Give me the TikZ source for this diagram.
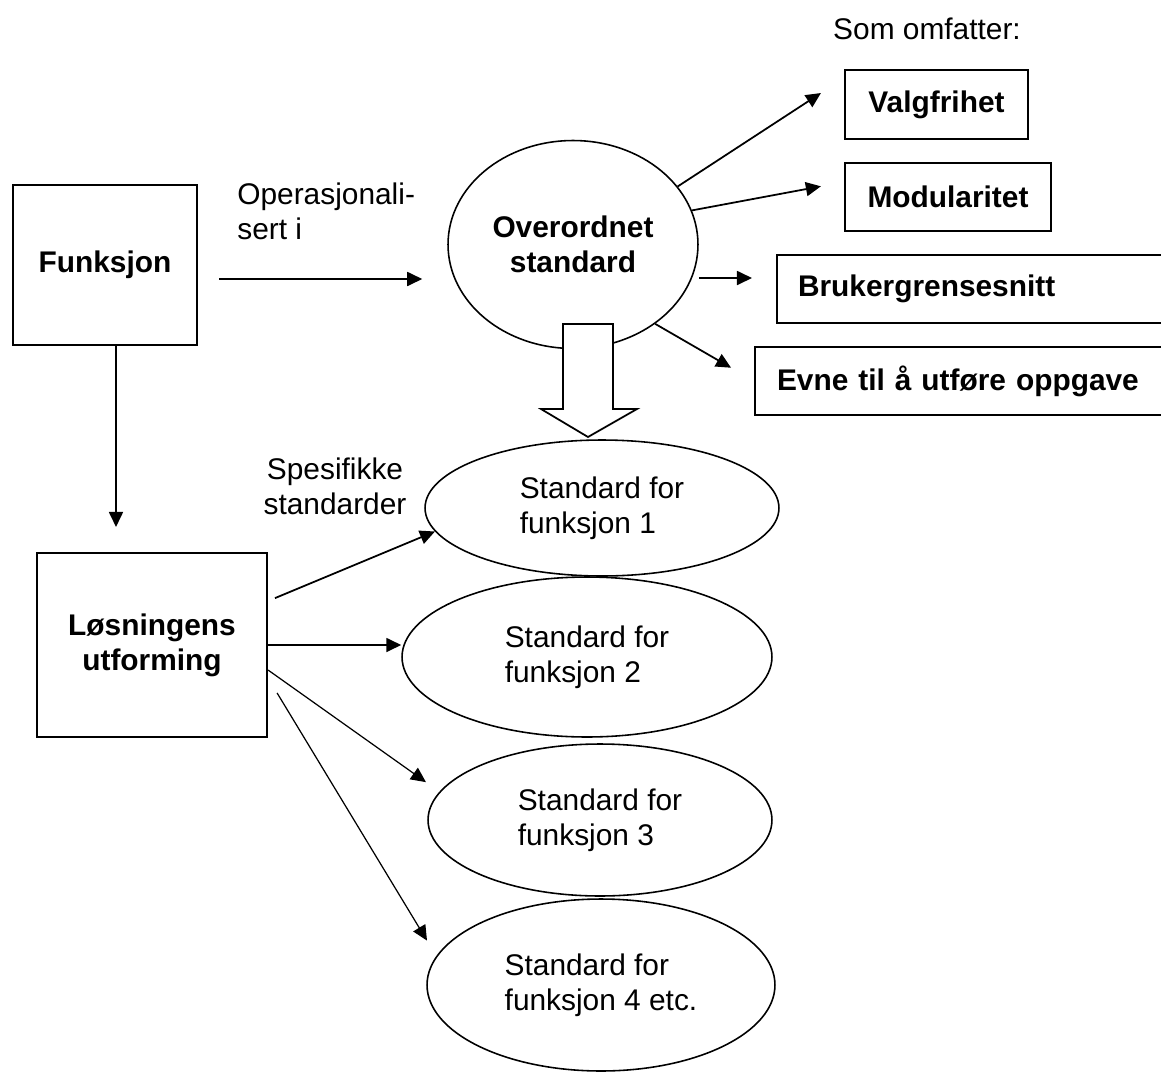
\documentclass[tikz,border=0pt]{standalone}
\usepackage{fontspec}
\setmainfont{Liberation Sans}
\usetikzlibrary{arrows.meta,shapes.geometric}

\begin{document}
\begin{tikzpicture}[
  x=0.02cm, y=-0.02cm,
  font=\fontsize{17}{20}\selectfont,
  b/.style={draw, line width=1.2pt, font=\fontsize{17}{20}\selectfont\bfseries,
    align=center, inner sep=0pt},
  wb/.style={b, align=left, inner xsep=0.42cm, minimum height=1.36cm},
  e/.style={draw, ellipse, line width=0.9pt, align=left, inner sep=0pt},
  t/.style={inner sep=0pt},
  d/.style={-{Triangle[length=0.3cm,width=0.28cm]}, line width=1pt},
  dt/.style={d, line width=0.7pt}
]
\useasboundingbox (0,0) rectangle (1161,1076);
\node[b, minimum width=3.68cm, minimum height=3.2cm] (funk) at (105,265) {Funksjon};
\node[b, minimum width=4.6cm, minimum height=3.68cm] (losn) at (152,645) {Løsningens\\utforming};
\node[e, font=\fontsize{17}{20}\selectfont\bfseries, align=center,
  minimum width=5cm, minimum height=4.16cm] (over) at (573,244.5) {Overordnet\\standard};
\node[b, minimum width=3.66cm, minimum height=1.38cm] (valg) at (936.5,104.5) {Valgfrihet};
\node[b, minimum width=4.12cm, minimum height=1.36cm] (modu) at (948,197) {Modularitet};
\node[wb, text width=7.12cm] (bruk) at (976,289) {Brukergrensesnitt};
\node[wb, inner xsep=0.44cm, text width=7.52cm] (evne) at (965,381) {Evne til å utføre oppgave};
\node[e, minimum width=7.08cm, minimum height=2.72cm] (std1) at (602,508) {Standard for\\funksjon 1};
\node[e, minimum width=7.4cm, minimum height=3.2cm] (std2) at (587,657) {Standard for\\funksjon 2};
\node[e, minimum width=6.88cm, minimum height=3.04cm] (std3) at (600,820) {Standard for\\funksjon 3};
\node[e, minimum width=6.96cm, minimum height=3.44cm] (std4) at (601,985) {Standard for\\funksjon 4 etc.};
\node[t, anchor=west, align=left] (opl) at (237,211) {Operasjonali-\\sert i};
\node[t, align=center] (spes) at (335,486) {Spesifikke\\standarder};
\node[t] (somo) at (927,29) {Som omfatter:};
\draw[line width=1pt, fill=white] (563,324) -- (613,324) -- (613,409) -- (637,409)
  -- (588,437) -- (541,409) -- (563,409) -- cycle;
\draw[d, shorten >=0.5cm] ([xshift=0.22cm]funk.south) -- ([xshift=0.22cm]funk.south |- losn.north);
\draw[d, shorten <=0.42cm, shorten >=0.5cm] ([yshift=-0.28cm]funk.east) -- ([yshift=-0.28cm]funk.east -| over.west);
\draw[d, shorten >=0.55cm] (over.29) -- ([yshift=0.53cm]valg.west);
\draw[d, shorten >=0.47cm] (over.16) -- ([yshift=0.3cm]modu.west);
\draw[d, shorten >=0.48cm] ([yshift=0.22cm]bruk.west -| over.east) -- ([yshift=0.22cm]bruk.west);
\draw[d, shorten >=0.53cm] (over.-44) -- (evne.west);
\draw[d, shorten <=0.15cm] ([yshift=0.88cm]losn.east) -- (std1.188);
\draw[d] (losn.east) -- (losn.east -| std2.west);
\draw[dt, shorten >=0.33cm] ([yshift=-0.5cm]losn.east) -- (std3.170);
\draw[dt, shorten <=0.35cm, shorten >=0.36cm] ([yshift=-0.66cm]losn.east) -- (std4.170);
\end{tikzpicture}
\end{document}
